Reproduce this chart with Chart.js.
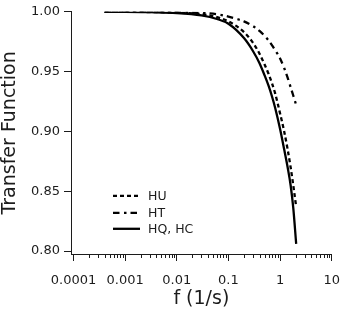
<!DOCTYPE html>
<html>
<head>
<meta charset="utf-8">
<script src="https://cdn.jsdelivr.net/npm/chart.js@4"></script>
<style>
html,body{margin:0;padding:0;background:#ffffff;}
canvas{display:block;}
</style>
</head>
<body>
<canvas id="c" width="352" height="309"></canvas>
<script>
// ---- data ----
const freq = [0.0004, 0.001, 0.003, 0.01, 0.03, 0.06, 0.1, 0.2, 0.3, 0.4, 0.5, 0.6, 0.7, 0.8, 1.0, 1.2, 1.4, 1.6, 1.8, 2.05];
const hu   = [1.000, 1.000, 0.9998, 0.9993, 0.998, 0.9955, 0.992, 0.983, 0.974, 0.965, 0.956, 0.948, 0.940, 0.932, 0.915, 0.900, 0.885, 0.870, 0.855, 0.837];
const ht   = [1.000, 1.000, 1.000, 0.9997, 0.999, 0.998, 0.996, 0.992, 0.988, 0.984, 0.980, 0.976, 0.972, 0.968, 0.961, 0.953, 0.945, 0.937, 0.930, 0.922];
const hqhc = [1.000, 1.000, 0.9997, 0.999, 0.997, 0.994, 0.990, 0.978, 0.967, 0.957, 0.947, 0.938, 0.929, 0.920, 0.902, 0.885, 0.870, 0.855, 0.836, 0.806];
const seriesLabels = ['HU', 'HT', 'HQ, HC'];
const xMajorTicks = [0.0001, 0.001, 0.01, 0.1, 1, 10];
const xTickLabels = ['0.0001', '0.001', '0.01', '0.1', '1', '10'];
const yTicks = [0.80, 0.85, 0.90, 0.95, 1.00];
const yTickLabels = ['0.80', '0.85', '0.90', '0.95', '1.00'];
const xTitle = 'f (1/s)';
const yTitle = 'Transfer Function';

const FONT = "'DejaVu Sans', sans-serif";
const INK = '#1c1c1c';

const toPts = (ys) => freq.map((f, i) => ({x: f, y: ys[i]}));

// minor ticks of the log axis (2..9 in each decade)
const xMinorTicks = [];
for (let d = 0; d < xMajorTicks.length - 1; d++) {
  for (let m = 2; m <= 9; m++) xMinorTicks.push(xMajorTicks[d] * m);
}

const minorTickPlugin = {
  id: 'minorTicks',
  afterDraw(chart) {
    const xs = chart.scales.x;
    const c = chart.ctx;
    const y0 = chart.chartArea.bottom;
    c.save();
    c.strokeStyle = INK;
    c.lineWidth = 1;
    c.beginPath();
    xMinorTicks.forEach(v => {
      const px = Math.round(xs.getPixelForValue(v)) + 0.5;
      c.moveTo(px, y0);
      c.lineTo(px, y0 + 4);
    });
    c.stroke();
    c.restore();
  }
};

const inLegendPlugin = {
  id: 'inLegend',
  afterDraw(chart) {
    const c = chart.ctx;
    const a = chart.chartArea;
    const x0 = a.left + 42, x1 = a.left + 69, tx = a.left + 77;
    const ys = [a.top + 184, a.top + 201, a.top + 217];
    c.save();
    c.font = '12.5px ' + FONT;
    c.textBaseline = 'middle';
    c.textAlign = 'left';
    chart.data.datasets.forEach((ds, i) => {
      c.strokeStyle = ds.borderColor;
      c.lineWidth = ds.borderWidth;
      c.setLineDash(ds.borderDash || []);
      c.lineCap = 'butt';
      c.beginPath();
      c.moveTo(x0, ys[i]);
      c.lineTo(x1, ys[i]);
      c.stroke();
      c.setLineDash([]);
      c.fillStyle = INK;
      c.fillText(ds.label, tx, ys[i] + 1);
    });
    c.restore();
  }
};

new Chart(document.getElementById('c'), {
  type: 'line',
  data: {
    datasets: [
      {label: seriesLabels[0], data: toPts(hu),   borderColor: '#000', borderWidth: 2.3, borderDash: [4, 3]},
      {label: seriesLabels[1], data: toPts(ht),   borderColor: '#000', borderWidth: 2.3, borderDash: [6.5, 4.5, 2.5, 4]},
      {label: seriesLabels[2], data: toPts(hqhc), borderColor: '#000', borderWidth: 2.3, borderDash: []}
    ]
  },
  options: {
    responsive: false,
    animation: false,
    devicePixelRatio: 1,
    elements: {
      point: {radius: 0},
      line: {cubicInterpolationMode: 'monotone', fill: false, borderCapStyle: 'butt'}
    },
    layout: {padding: {left: 0, right: 20, top: 10, bottom: 0}},
    plugins: {legend: {display: false}, tooltip: {enabled: false}},
    scales: {
      x: {
        type: 'logarithmic',
        position: 'bottom',
        min: Math.pow(10, -4.048),
        max: 10,
        afterBuildTicks: (s) => { s.ticks = xMajorTicks.map(v => ({value: v, major: true})); },
        afterFit: (s) => { s.height = 55; },
        ticks: {
          autoSkip: false, maxRotation: 0, minRotation: 0, padding: 12,
          color: INK, font: {family: FONT, size: 13},
          callback: (v, i) => xTickLabels[i]
        },
        grid: {drawOnChartArea: false, drawTicks: true, tickLength: 7, color: INK, tickColor: INK, tickWidth: 1},
        border: {display: true, color: INK, width: 1},
        title: {display: true, text: xTitle, color: INK, font: {family: FONT, size: 19, lineHeight: 1.0}, padding: {top: 0, bottom: 0}}
      },
      y: {
        type: 'linear',
        position: 'left',
        min: 0.7975,
        max: 1.0,
        afterBuildTicks: (s) => { s.ticks = yTicks.map(v => ({value: v})); },
        afterFit: (s) => { s.width = 71; },
        ticks: {
          padding: 4, color: INK, font: {family: FONT, size: 13},
          callback: (v, i) => yTickLabels[i]
        },
        grid: {drawOnChartArea: false, drawTicks: true, tickLength: 7, color: INK, tickColor: INK, tickWidth: 1},
        border: {display: true, color: INK, width: 1},
        title: {display: true, text: yTitle, color: INK, font: {family: FONT, size: 19, lineHeight: 1.1}, padding: {top: 0, bottom: 0}}
      }
    }
  },
  plugins: [minorTickPlugin, inLegendPlugin]
});
</script>
</body>
</html>
